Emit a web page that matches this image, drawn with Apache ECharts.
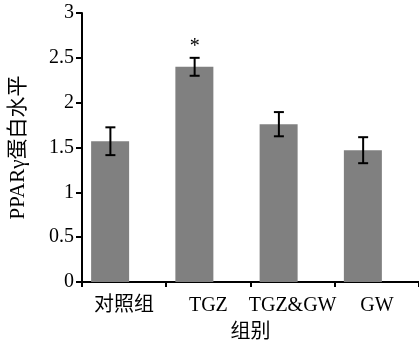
<!DOCTYPE html>
<html>
<head>
<meta charset="utf-8">
<script src="https://cdn.jsdelivr.net/npm/echarts@6/dist/echarts.min.js"></script>
<style>
  html, body { margin: 0; padding: 0; background: #fff; }
  #chart { width: 419px; height: 348px; }
</style>
</head>
<body>
<div id="chart"></div>
<script>
// 数据
var categories = ['对照组', 'TGZ', 'TGZ&GW', 'GW'];
var means = [1.57, 2.40, 1.76, 1.47];
var errors = [0.155, 0.10, 0.135, 0.145];
var sigMarks = ['', '*', '', ''];
var yTicks = [0, 0.5, 1, 1.5, 2, 2.5, 3];

var FONT = "'Liberation Serif', 'Times New Roman', 'DejaVu Serif', 'Noto Sans CJK SC', serif";
var myChart = echarts.init(document.getElementById('chart'));

// 柱子相对类目中心向左偏移的比例
var barShift = -0.163;

var option = {
  animation: false,
  grid: { left: 76, right: 0, top: 13, bottom: 61 },
  xAxis: {
    type: 'category',
    data: categories,
    axisLine: { lineStyle: { color: '#000', width: 2 } },
    axisTick: { show: true, length: 5, lineStyle: { color: '#000', width: 2 } },
    axisLabel: { interval: 0, color: '#000', fontSize: 20, fontFamily: FONT, margin: 14 },
    name: '组别',
    nameLocation: 'middle',
    nameGap: 41,
    nameTextStyle: { color: '#000', fontSize: 20, fontFamily: FONT }
  },
  yAxis: {
    type: 'value',
    min: yTicks[0],
    max: yTicks[yTicks.length - 1],
    interval: 0.5,
    axisLine: { show: true, lineStyle: { color: '#000', width: 2 } },
    axisTick: { show: true, length: 6, lineStyle: { color: '#000', width: 2 } },
    splitLine: { show: false },
    axisLabel: { color: '#000', fontSize: 20, fontFamily: FONT, margin: 8 },
    name: 'PPARγ蛋白水平',
    nameLocation: 'middle',
    nameRotate: 90,
    nameGap: 53,
    nameTextStyle: { color: '#000', fontSize: 21, fontFamily: FONT }
  },
  series: [
    {
      type: 'bar',
      data: means,
      barWidth: 38,
      barGap: '0%',
      itemStyle: { color: '#808080' },
      z: 2
    },
    {
      // 占位，使柱子偏左
      type: 'bar',
      data: means.map(function () { return '-'; }),
      barWidth: 28
    },
    {
      type: 'custom',
      data: means.map(function (m, i) { return [i, m, errors[i]]; }),
      z: 5,
      renderItem: function (params, api) {
        var idx = api.value(0);
        var m = api.value(1);
        var e = api.value(2);
        var band = api.size([1, 0])[0];
        var top = api.coord([idx, m + e]);
        var bot = api.coord([idx, m - e]);
        var x = top[0] + barShift * band;
        var cap = 5;
        var style = { stroke: '#000', lineWidth: 2 };
        var children = [
          { type: 'line', shape: { x1: x, y1: top[1], x2: x, y2: bot[1] }, style: style },
          { type: 'line', shape: { x1: x - cap, y1: top[1], x2: x + cap, y2: top[1] }, style: style },
          { type: 'line', shape: { x1: x - cap, y1: bot[1], x2: x + cap, y2: bot[1] }, style: style }
        ];
        if (sigMarks[idx]) {
          children.push({
            type: 'text',
            style: {
              x: x, y: top[1] - 1,
              text: sigMarks[idx],
              fill: '#000',
              font: '20px ' + FONT,
              align: 'center',
              verticalAlign: 'bottom'
            }
          });
        }
        return { type: 'group', children: children };
      }
    }
  ]
};

myChart.setOption(option);
</script>
</body>
</html>
